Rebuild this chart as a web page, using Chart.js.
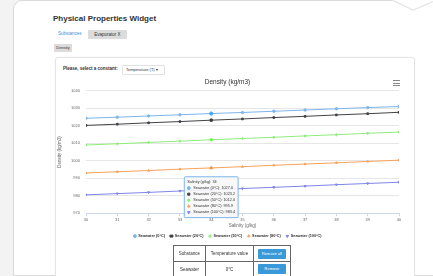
<!DOCTYPE html>
<html lang="en">
<head>
    <meta charset="UTF-8">
    <title>Physical Properties Widget</title>
    <script src="https://cdn.jsdelivr.net/npm/chart.js"></script>
    <style>
        body {
            margin: 0;
            width: 433px;
            height: 276px;
            overflow: hidden;
            background-color: #f3f3f3;
            font-family: "Liberation Sans", Arial, sans-serif;
            position: relative;
        }

        .card {
            position: absolute;
            left: 13px;
            top: 0;
            width: 440px;
            height: 274px;
            background: #fff;
            border: 1px solid #d9d9d9;
            border-radius: 9px 0 0 0;
        }

        .notch {
            position: absolute;
            left: 392px;
            top: -1px;
        }

        .abs { position: absolute; white-space: nowrap; }

        .title {
            left: 53px;
            top: 14px;
            font-size: 8px;
            font-weight: bold;
            color: #333;
        }

        .tab-link {
            left: 58px;
            top: 31px;
            font-size: 4.5px;
            color: #3a8fd6;
        }

        .tab-active {
            left: 88px;
            top: 30px;
            width: 39px;
            height: 9px;
            line-height: 9px;
            text-align: center;
            font-size: 4.5px;
            background: #dcdcdc;
            color: #333;
            border-radius: 1px;
        }

        .density-btn {
            left: 54px;
            top: 44px;
            width: 18px;
            height: 8px;
            line-height: 8px;
            text-align: center;
            font-size: 4px;
            background: #dcdcdc;
            color: #333;
        }

        .panel {
            left: 55px;
            top: 57px;
            width: 358px;
            height: 230px;
            background: #fff;
            border: 1px solid #e4e4e4;
            border-radius: 3px;
            box-shadow: 0 0 2px rgba(0,0,0,0.05);
        }

        .prompt {
            left: 63px;
            top: 66px;
            font-size: 4.5px;
            font-weight: bold;
            color: #333;
        }

        .select {
            left: 122px;
            top: 65px;
            width: 38px;
            height: 8px;
            line-height: 8px;
            font-size: 4px;
            color: #333;
            border: 1px solid #e2e2e2;
            border-radius: 1px;
            padding-left: 3px;
            box-sizing: content-box;
        }

        .menu {
            left: 393px;
            top: 80px;
            width: 7px;
        }

        .menu div {
            height: 1px;
            background: #888;
            margin-bottom: 1.5px;
        }

        #chart-box {
            position: absolute;
            left: 56px;
            top: 74px;
            width: 356px;
            height: 174px;
        }

        table {
            position: absolute;
            left: 173px;
            top: 245px;
            border-collapse: collapse;
            font-size: 4.5px;
            color: #333;
        }

        td {
            border: 1px solid #666;
            text-align: center;
            padding: 0;
        }

        .btn {
            display: inline-block;
            width: 28px;
            height: 10px;
            line-height: 10px;
            background: #3a9ad9;
            color: #fff;
            font-size: 4px;
            border-radius: 1px;
        }
    </style>
</head>
<body>

    <div class="card"></div>
    <svg class="notch" width="45" height="16">
        <polyline points="0,1 21,11 45,1" fill="#fff" stroke="#e4e4e4" stroke-width="1.2"/>
    </svg>

    <div class="abs title">Physical Properties Widget</div>
    <div class="abs tab-link">Substances</div>
    <div class="abs tab-active">Evaporator X</div>
    <div class="abs density-btn">Density</div>

    <div class="abs panel"></div>
    <div class="abs prompt">Please, select a constant:</div>
    <div class="abs select">Temperature (T) &#9662;</div>
    <div class="abs menu"><div></div><div></div><div></div></div>

    <div id="chart-box">
        <canvas id="densityChart" width="356" height="174"></canvas>
    </div>

    <table>
        <tr style="height:16px">
            <td style="width:31px">Substance</td>
            <td style="width:47px">Temperature value</td>
            <td style="width:36px"><span class="btn">Remove all</span></td>
        </tr>
        <tr style="height:15px">
            <td>Seawater</td>
            <td>0°C</td>
            <td><span class="btn">Remove</span></td>
        </tr>
    </table>

    <script>
        const salinity = [30, 31, 32, 33, 34, 35, 36, 37, 38, 39, 40];
        const seriesNames = ['Seawater (0°C)', 'Seawater (20°C)', 'Seawater (50°C)', 'Seawater (80°C)', 'Seawater (100°C)'];
        const seawater0 = [1024.3, 1024.9, 1025.6, 1026.3, 1027.0, 1027.6, 1028.3, 1029.0, 1029.7, 1030.4, 1031.0];
        const seawater20 = [1020.2, 1020.9, 1021.7, 1022.4, 1023.2, 1023.9, 1024.7, 1025.4, 1026.2, 1026.9, 1027.7];
        const seawater50 = [1009.0, 1009.7, 1010.5, 1011.2, 1012.0, 1012.7, 1013.4, 1014.2, 1014.9, 1015.7, 1016.4];
        const seawater80 = [993.0, 993.7, 994.4, 995.2, 995.9, 996.6, 997.4, 998.1, 998.8, 999.6, 1000.3];
        const seawater100 = [980.5, 981.2, 981.9, 982.7, 983.4, 984.1, 984.8, 985.5, 986.3, 987.0, 987.7];
        const yTicks = [970, 980, 990, 1000, 1010, 1020, 1030, 1040];

        const allSeries = [seawater0, seawater20, seawater50, seawater80, seawater100];
        const colors = ['#7cb5ec', '#434348', '#90ed7d', '#f7a35c', '#8085e9'];
        const markers = ['circle', 'rect', 'rectRot', 'triangle', 'triangle'];
        const rotations = [0, 0, 0, 0, 180];
        const hoverIndex = 4;

        // shared tooltip sits just over the lowest hovered point
        Chart.Tooltip.positioners.onPoint = function (elements) {
            if (!elements.length) return false;
            const last = elements[elements.length - 1].element;
            return { x: last.x, y: last.y - 13, xAlign: 'center', yAlign: 'top' };
        };

        const datasets = allSeries.map((values, i) => ({
            label: seriesNames[i],
            data: values.map((v, j) => ({ x: salinity[j], y: v })),
            borderColor: colors[i],
            backgroundColor: colors[i],
            borderWidth: 1,
            pointStyle: markers[i],
            rotation: rotations[i],
            pointRadius: 1.2,
            pointHoverRadius: 1.6,
            tension: 0
        }));

        const ctx = document.getElementById('densityChart').getContext('2d');
        const densityChart = new Chart(ctx, {
            type: 'line',
            data: { datasets: datasets },
            options: {
                responsive: false,
                animation: false,
                devicePixelRatio: 1,
                layout: { padding: { left: 0, right: 13, top: 0, bottom: 0 } },
                interaction: { mode: 'index', intersect: false },
                plugins: {
                    title: {
                        display: true,
                        text: 'Density (kg/m3)',
                        color: '#333',
                        font: { size: 6.5, family: 'Liberation Sans', weight: 'normal' },
                        padding: { top: 4, bottom: 5 }
                    },
                    legend: {
                        position: 'bottom',
                        labels: {
                            usePointStyle: true,
                            pointStyleWidth: 3,
                            boxHeight: 2,
                            padding: 5,
                            color: '#333',
                            font: { size: 3.8, family: 'Liberation Sans', weight: 'bold' }
                        }
                    },
                    tooltip: {
                        position: 'onPoint',
                        backgroundColor: 'rgba(247,247,247,0.9)',
                        borderColor: '#7cb5ec',
                        borderWidth: 1,
                        cornerRadius: 1,
                        caretSize: 0,
                        caretPadding: 0,
                        padding: 3,
                        titleColor: '#333',
                        bodyColor: '#333',
                        titleFont: { size: 3.8, family: 'Liberation Sans', weight: 'normal' },
                        bodyFont: { size: 3.8, family: 'Liberation Sans' },
                        titleMarginBottom: 1.5,
                        bodySpacing: 1.5,
                        boxWidth: 3,
                        boxHeight: 3,
                        boxPadding: 1,
                        usePointStyle: true,
                        callbacks: {
                            title: items => 'Salinity (g/kg): ' + items[0].parsed.x,
                            label: item => item.dataset.label + ': ' + item.parsed.y.toFixed(1)
                        }
                    }
                },
                scales: {
                    x: {
                        type: 'linear',
                        min: salinity[0],
                        max: salinity[salinity.length - 1],
                        afterFit: scale => { scale.height = 16; },
                        ticks: {
                            stepSize: 1,
                            color: '#666',
                            padding: 1,
                            font: { size: 4, family: 'Liberation Sans' }
                        },
                        grid: { drawOnChartArea: false, tickLength: 3, color: '#ccd6eb' },
                        border: { color: '#ccd6eb' },
                        title: {
                            display: true,
                            text: 'Salinity (g/kg)',
                            color: '#666',
                            padding: 1,
                            font: { size: 4.5, family: 'Liberation Sans' }
                        }
                    },
                    y: {
                        min: yTicks[0],
                        max: yTicks[yTicks.length - 1],
                        afterFit: scale => { scale.width = 30; },
                        afterBuildTicks: scale => { scale.ticks = yTicks.map(v => ({ value: v })); },
                        ticks: {
                            color: '#666',
                            padding: 6,
                            callback: v => String(v),
                            font: { size: 4, family: 'Liberation Sans' }
                        },
                        grid: { color: '#e6e6e6', drawTicks: false },
                        border: { display: false },
                        title: {
                            display: true,
                            text: 'Density (kg/m3)',
                            color: '#666',
                            padding: 1,
                            font: { size: 4.5, family: 'Liberation Sans' }
                        }
                    }
                }
            }
        });

        const active = allSeries.map((_, i) => ({ datasetIndex: i, index: hoverIndex }));
        densityChart.setActiveElements(active);
        densityChart.tooltip.setActiveElements(active, { x: 0, y: 0 });
        densityChart.update();
    </script>

</body>
</html>
